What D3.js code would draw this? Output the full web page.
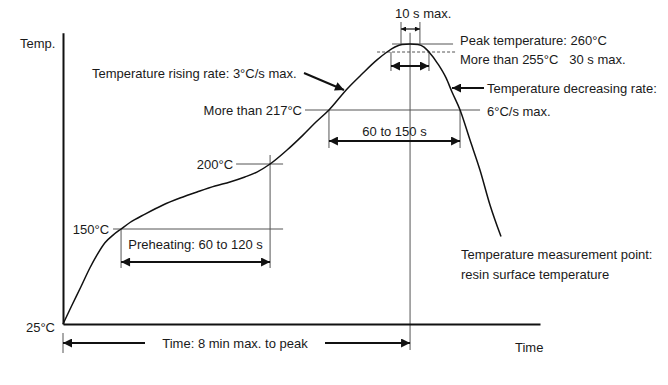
<!DOCTYPE html>
<html><head><meta charset="utf-8">
<script src="https://cdn.jsdelivr.net/npm/d3@7"></script>
<style>
body{margin:0;background:#fff}
text{font-family:"Liberation Sans",Arial,Helvetica,sans-serif;font-size:13px;fill:#1a1a1a}
</style>
</head><body><svg id="c" width="668" height="385"></svg>
<script>
// ---- data (schematic reflow profile) ----
const profileTime = [0,5.5,10.9,16.4,20.7,25.5,30.4,35.3,40.7,49.9,60.8,71.1,81.5,92.4,101.5,110.6,117.9,125.9,136.2,145.9,153.8,161.7,172.7,181.8,190.9,197,201.8,206.1,211,215.8,219.5,222.5,228,232.9,236.5,241.4,247.4,253.5,259.6,266.3];
const profileTemp = [25,50,74,99,116,132,142,150,155,161.5,168.5,173.8,178.5,183.1,186.2,190,193.8,200,204.4,209.1,213.2,217,230.8,240.6,249.8,255,258.1,259.7,260,259.7,258.1,255,247.1,238,228.8,217,207.6,195.4,168.5,140];
const tempStops = [25,150,200,217,255,260];
const baseTempLabel = "25°C";
const levelTemps = [150,200,217];
const levelLabels = ["150°C","200°C","More than 217°C"];
const peakTemp = 260, holdTemp = 255;
const tPreheatStart = 35.3, tPreheatEnd = 125.9;
const tReflowStart = 161.7, tReflowEnd = 241.4;
const tPeak = 211, tPeakWin = [205.5,217], tHoldWin = [199.4,222.5];
const labels = {
  temp:"Temp.", time:"Time",
  rising:"Temperature rising rate: 3°C/s max.",
  preheat:"Preheating: 60 to 120 s",
  reflow:"60 to 150 s",
  peakWin:"10 s max.",
  peak:"Peak temperature: 260°C",
  hold:"More than 255°C   30 s max.",
  dec1:"Temperature decreasing rate:", dec2:"6°C/s max.",
  meas1:"Temperature measurement point:", meas2:"resin surface temperature",
  toPeak:"Time: 8 min max. to peak"
};

// ---- scales ----
const x = d3.scaleLinear().domain([0,290]).range([63,540]);
const y = d3.scaleLinear().domain(tempStops).range([324,229,164,110,52,44]);
const svg = d3.select("#c");

const defs = svg.append("defs");
function mk(id,w,h){
  defs.append("marker").attr("id",id).attr("viewBox","0 0 10 10").attr("refX",10).attr("refY",5)
    .attr("markerUnits","userSpaceOnUse").attr("markerWidth",w).attr("markerHeight",h)
    .attr("orient","auto-start-reverse").append("path").attr("d","M0,0L10,5L0,10Z").attr("fill","#111");
}
mk("ah",10,9); mk("ahs",6,5);

const thin = (x1,y1,x2,y2,dash)=>svg.append("line").attr("x1",x1).attr("y1",y1).attr("x2",x2).attr("y2",y2)
  .attr("stroke","#555").attr("stroke-width",1).attr("stroke-dasharray",dash||null);
const arrow = (x1,y1,x2,y2,both,small)=>svg.append("line").attr("x1",x1).attr("y1",y1).attr("x2",x2).attr("y2",y2)
  .attr("stroke","#111").attr("stroke-width",small?1.2:2)
  .attr("marker-end",`url(#${small?"ahs":"ah"})`).attr("marker-start",both?`url(#${small?"ahs":"ah"})`:null);
const txt = (s,tx,ty,anchor)=>svg.append("text").attr("x",tx).attr("y",ty).attr("text-anchor",anchor||"start")
  .style("white-space","pre").text(s);

// ---- reference lines ----
thin(x(tPeak), y(267), x(tPeak), 350);
thin(x(0), 333, x(0), 353);
thin(x(tPreheatStart)-8, y(150), x(tPreheatEnd)+13, y(150));
thin(x(tPreheatEnd)-34, y(200), x(tPreheatEnd)+13, y(200));
thin(305, y(217), x(tReflowEnd)+20, y(217));
thin(x(tPreheatStart), y(150), x(tPreheatStart), 268);
thin(x(tPreheatEnd), y(200)-9, x(tPreheatEnd), 268);
thin(x(tReflowStart), y(217), x(tReflowStart), 148);
thin(x(tReflowEnd), y(217), x(tReflowEnd), 148);
thin(x(tPeak)-18, y(peakTemp), x(tPeak)+43, y(peakTemp));
thin(x(tPeak)-33, y(holdTemp), x(tPeak)+45, y(holdTemp), "3,2");
tPeakWin.forEach(t=>thin(x(t), 22, x(t), y(peakTemp)));
tHoldWin.forEach(t=>thin(x(t), y(holdTemp), x(t), 71));

// ---- axes ----
svg.append("g").attr("transform",`translate(0,${y(25)})`)
  .call(d3.axisBottom(x).tickValues([]).tickSizeOuter(0))
  .call(g=>g.select(".domain").attr("stroke","#111").attr("stroke-width",2));
svg.append("g").attr("transform",`translate(${x(0)},0)`)
  .call(d3.axisLeft(y.copy().domain([25,267]).range([y(25),y(267)])).tickValues([25]).tickSize(0).tickPadding(8).tickSizeOuter(0).tickFormat(()=>baseTempLabel))
  .call(g=>g.select(".domain").attr("stroke","#111").attr("stroke-width",2))
  .call(g=>g.selectAll("text").attr("font-size",null).attr("font-family",null).attr("dy","0.32em").attr("y",3));

// ---- profile curve ----
const pts = profileTime.map((t,i)=>[t,profileTemp[i]]);
svg.append("path").datum(pts).attr("fill","none").attr("stroke","#111").attr("stroke-width",1.5)
  .attr("d", d3.line().x(d=>x(d[0])).y(d=>y(d[1])).curve(d3.curveMonotoneX));

// ---- arrows ----
arrow(x(tPreheatStart), 262, x(tPreheatEnd), 262, true);
arrow(x(tReflowStart), 141, x(tReflowEnd), 141, true);
arrow(x(tPeakWin[0]), 29, x(tPeakWin[1]), 29, true, true);
arrow(x(tHoldWin[0]), 66, x(tHoldWin[1]), 66, true);
arrow(145, 343, x(0), 343);
arrow(325, 343, x(tPeak), 343);
arrow(304, 73, 344, 90);
arrow(484, 88, 452, 88);

// ---- labels ----
txt(labels.temp, 20, 48);
levelTemps.forEach((v,i)=>{
  const ex = i===0 ? x(tPreheatStart)-12 : i===1 ? x(tPreheatEnd)-37 : 302;
  txt(levelLabels[i], ex, y(v)+4.5, "end");
});
txt(labels.rising, 92, 78);
txt(labels.preheat, (x(tPreheatStart)+x(tPreheatEnd))/2, 249, "middle");
txt(labels.reflow, (x(tReflowStart)+x(tReflowEnd))/2, 136, "middle");
txt(labels.peakWin, 395, 18);
txt(labels.peak, 460, 45);
txt(labels.hold, 460, 64);
txt(labels.dec1, 487, 93);
txt(labels.dec2, 487, 116);
txt(labels.meas1, 461, 259);
txt(labels.meas2, 461, 279);
txt(labels.toPeak, 235, 348, "middle");
txt(labels.time, 515, 352);
</script></body></html>
